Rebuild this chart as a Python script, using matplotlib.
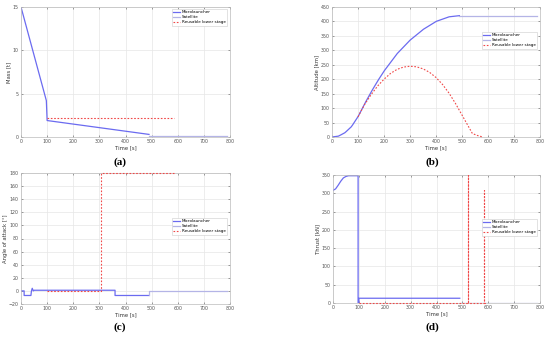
import matplotlib
matplotlib.use("Agg")
import matplotlib.pyplot as plt
import numpy as np

# ---------------- data ----------------
# (a) Mass [t]
mass_ml_t = [0, 97, 97, 100, 490]
mass_ml_v = [15, 4.2, 4.2, 1.9, 0.3]
mass_sat_t = [490, 790]
mass_sat_v = [0.1, 0.1]
mass_ls_t = [100, 585]
mass_ls_v = [2.2, 2.2]

# (b) Altitude [km]
alt_ml_t = [0, 25, 50, 75, 100, 125, 150, 175, 200, 250, 300, 350, 400, 450, 490]
alt_ml_v = [0, 3, 15, 36, 70, 114, 155, 193, 228, 288, 335, 372, 400, 416, 420]
alt_sat_t = [490, 790]
alt_sat_v = [420, 420]
alt_ls_t = [100, 125, 150, 175, 200, 225, 250, 275, 300, 325, 350, 375, 400, 425,
            450, 475, 500, 525, 540, 560, 580]
alt_ls_v = [70, 112, 146, 176, 200, 220, 234, 242, 245, 243, 236, 224, 206, 182,
            152, 116, 76, 36, 12, 5, 0]

# (c) Angle of attack [deg]
aoa_ml_t = [0, 12, 12, 38, 40, 43, 47, 50, 360, 360, 490]
aoa_ml_v = [0, 0, -7, -7, 0, 4, 0, 1, 1, -7, -7]
aoa_sat_t = [490, 490, 790]
aoa_sat_v = [-7, 0, 0]
aoa_ls_t = [100, 305, 305, 585]
aoa_ls_v = [0, 0, 180, 180]

# (d) Thrust [kN]
thr_ml_t = [0, 10, 20, 30, 40, 50, 60, 70, 97, 97, 100, 100, 490]
thr_ml_v = [308, 312, 322, 333, 342, 346, 348, 348, 348, 0, 0, 13, 13]
thr_sat_t = [490, 790]
thr_sat_v = [0, 0]
thr_ls_t = [100, 520, 520, 521, 521, 583, 583, 585, 585, 590]
thr_ls_v = [0, 0, 350, 350, 0, 0, 310, 310, 0, 0]

series_names = ["Microlauncher", "Satellite", "Reusable lower stage"]
panel_labels = ["(a)", "(b)", "(c)", "(d)"]
ylabels = ["Mass [t]", "Altitude [km]", "Angle of attack [°]", "Thrust [kN]"]
xlabel = "Time [s]"

c_ml = "#6b6bf0"
c_sat = "#b4b4e6"
c_ls = "#f04848"

W, H = 550, 338
fig = plt.figure(figsize=(5.5, 3.38), dpi=100)


def px_rect(x0, y0, x1, y1):
    return [x0 / W, 1 - y1 / H, (x1 - x0) / W, (y1 - y0) / H]


positions = [
    px_rect(21, 7, 230, 137),
    px_rect(332, 7, 540, 137),
    px_rect(21, 173, 230, 304),
    px_rect(333, 175, 540, 303),
]
data = [
    (mass_ml_t, mass_ml_v, mass_sat_t, mass_sat_v, mass_ls_t, mass_ls_v, (0, 15), np.arange(0, 16, 5)),
    (alt_ml_t, alt_ml_v, alt_sat_t, alt_sat_v, alt_ls_t, alt_ls_v, (0, 450), np.arange(0, 451, 50)),
    (aoa_ml_t, aoa_ml_v, aoa_sat_t, aoa_sat_v, aoa_ls_t, aoa_ls_v, (-20, 180), np.arange(-20, 181, 20)),
    (thr_ml_t, thr_ml_v, thr_sat_t, thr_sat_v, thr_ls_t, thr_ls_v, (0, 350), np.arange(0, 351, 50)),
]
legend_px = [(172, 9), (482, 32), (172, 218), (482, 219)]

for i, (pos, d) in enumerate(zip(positions, data)):
    ax = fig.add_axes(pos)
    mlt, mlv, st, sv, lt, lv, ylim, yt = d
    if i == 1:
        xs = np.linspace(0, 490, 200)
        ax.plot(xs, np.interp(xs, mlt, mlv), color=c_ml, lw=0.9, label=series_names[0])
    else:
        ax.plot(mlt, mlv, color=c_ml, lw=0.9, label=series_names[0])
    ax.plot(st, sv, color=c_sat, lw=0.9, label=series_names[1])
    ax.plot(lt, lv, color=c_ls, lw=0.8, ls=(0, (1.5, 1.5)), label=series_names[2],
            clip_on=False, zorder=3)
    ax.set_xlim(0, 800)
    ax.set_ylim(*ylim)
    ax.set_xticks(np.arange(0, 801, 100))
    ax.set_yticks(yt)
    ax.grid(True, color="#e6e6e6", lw=0.5)
    ax.set_axisbelow(True)
    ax.tick_params(labelsize=3.4, length=1.5, width=0.4, direction="in",
                   top=True, right=True, pad=1.5, colors="#555555")
    for s in ax.spines.values():
        s.set_color("#bbbbbb")
        s.set_linewidth(0.5)
        s.set_zorder(2)
    ax.set_xlabel(xlabel, fontsize=3.8, labelpad=1, color="#333333")
    ax.set_ylabel(ylabels[i], fontsize=3.8, labelpad=1, color="#333333")
    lx, ly = legend_px[i]
    leg = ax.legend(loc="upper left", bbox_to_anchor=(lx / W, 1 - ly / H),
                    bbox_transform=fig.transFigure, borderaxespad=0, fontsize=3.0,
                    frameon=True, fancybox=False, edgecolor="#cccccc", framealpha=1,
                    handlelength=1.6, handletextpad=0.4, borderpad=0.3, labelspacing=0.25)
    leg.get_frame().set_linewidth(0.4)
    leg.set_zorder(5)

label_pos = [(120, 162), (432, 162), (120, 327), (432, 327)]
for lab, (x, y) in zip(panel_labels, label_pos):
    fig.text(x / W, 1 - y / H, lab, fontsize=8, fontweight="bold", family="Liberation Serif",
             ha="center", va="center")

fig.savefig("out.png", dpi=100)
